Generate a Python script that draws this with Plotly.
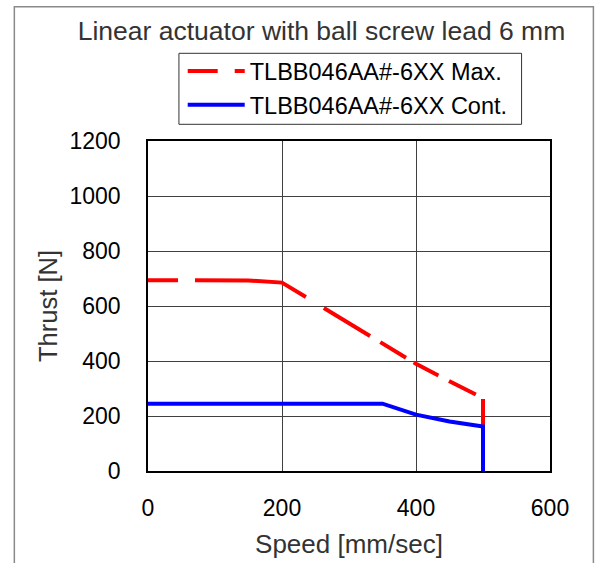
import plotly.graph_objects as go

# Data
max_speed = [0, 150, 200, 300, 400, 450, 500, 500]
max_thrust = [694, 693, 685, 537, 390, 326, 265, 162]
cont_speed = [0, 350, 400, 450, 500, 500]
cont_thrust = [245, 245, 205, 180, 162, 0]
x_ticks = [0, 200, 400, 600]
y_ticks = [0, 200, 400, 600, 800, 1000, 1200]
max_name = "TLBB046AA#-6XX Max."
cont_name = "TLBB046AA#-6XX Cont."

FONT = "Liberation Sans, Arial, sans-serif"
# irregular long-dash pattern seen on the reference's red curve
MAX_DASH = "30px,17px,115px,21px,54px,12px,30px,9px,28px,12px,30px,9px,40px"

fig = go.Figure()
fig.add_trace(go.Scatter(x=max_speed, y=max_thrust, mode="lines", name=max_name,
                         legendgroup="a",
                         line=dict(color="#ff0000", width=4, dash=MAX_DASH)))
fig.add_trace(go.Scatter(x=cont_speed, y=cont_thrust, mode="lines", name=cont_name,
                         legendgroup="b",
                         line=dict(color="#0000ff", width=4)))

W, H = 605, 563
L, R, T, B = 147.5, 54.5, 140.7, 92.3
pw, ph = W - L - R, H - T - B

def px(x):
    return (x - L) / pw

def py(y):
    return (H - B - y) / ph

fig.update_layout(
    width=W, height=H,
    margin=dict(l=L, r=R, t=T, b=B, autoexpand=False),
    paper_bgcolor="white", plot_bgcolor="white",
    font=dict(family=FONT, size=23, color="#000000"),
    title=dict(text="Linear actuator with ball screw lead 6 mm",
               x=321.5 / W, xref="container", xanchor="center",
               y=1 - 31 / H, yref="container", yanchor="middle",
               font=dict(family=FONT, size=26.5, color="#333333")),
    showlegend=True,
    legend=dict(x=px(182.3), y=py(49), xanchor="left", yanchor="top",
                bgcolor="rgba(0,0,0,0)", borderwidth=0,
                font=dict(family=FONT, size=23.5, color="#000000"),
                itemwidth=57, traceorder="grouped", tracegroupgap=0),
    xaxis=dict(range=[0, 600], tickvals=x_ticks, ticktext=[str(v) for v in x_ticks],
               showgrid=True, gridcolor="#404040", gridwidth=1,
               showline=True, linecolor="#000000", linewidth=1.5, mirror=True,
               ticks="", zeroline=False, ticklabelstandoff=16,
               tickfont=dict(size=23, color="#000000"),
               title=dict(text="Speed [mm/sec]", standoff=14,
                          font=dict(size=26, color="#333333"))),
    yaxis=dict(range=[0, 1200], tickvals=y_ticks, ticktext=[str(v) for v in y_ticks],
               showgrid=True, gridcolor="#404040", gridwidth=1,
               showline=True, linecolor="#000000", linewidth=1.5, mirror=True,
               ticks="", zeroline=False, ticklabelstandoff=21,
               tickfont=dict(size=23, color="#000000"),
               title=dict(text="Thrust [N]", standoff=5,
                          font=dict(size=25.5, color="#333333"))),
)

# Outer frame around the whole figure
fig.add_shape(type="rect", xref="paper", yref="paper",
              x0=px(13.5), x1=px(594), y0=py(600), y1=py(6.5),
              line=dict(color="#8a8a8a", width=1.5), fillcolor="rgba(0,0,0,0)",
              layer="below")
# Legend frame
fig.add_shape(type="rect", xref="paper", yref="paper",
              x0=px(178.5), x1=px(522), y0=py(124), y1=py(53),
              line=dict(color="#333333", width=1), fillcolor="white",
              layer="below")

fig.write_html(
    "out.html",
    config={"displayModeBar": False},
    post_script="document.body.style.margin='0';"
                "document.body.style.overflow='hidden';"
                "document.documentElement.style.overflow='hidden';",
)
